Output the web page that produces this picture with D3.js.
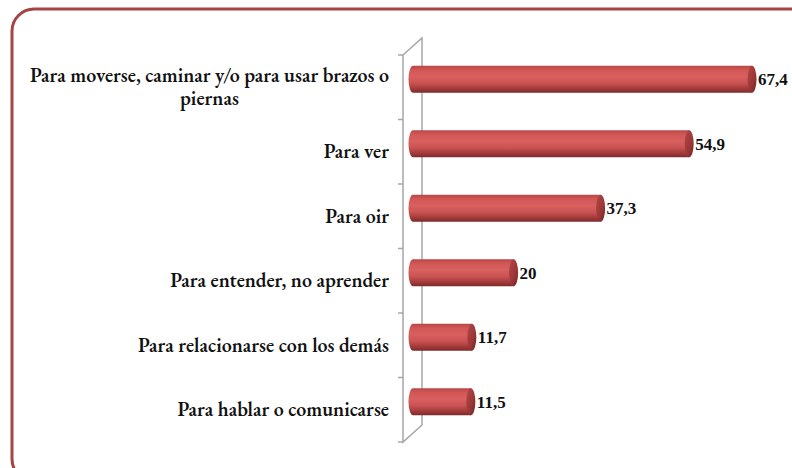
<!DOCTYPE html>
<html>
<head>
<meta charset="utf-8">
<script src="https://cdn.jsdelivr.net/npm/d3@7"></script>
<style>
  html, body { margin: 0; padding: 0; background: #fff; }
  svg { display: block; }
</style>
</head>
<body>
<svg id="chart" width="792" height="468"></svg>
<script>
// Tipo de dificultad (porcentaje)
const categories = [
  ["Para moverse, caminar y/o para usar brazos o", "piernas"],
  ["Para ver"],
  ["Para oir"],
  ["Para entender, no aprender"],
  ["Para relacionarse con los demás"],
  ["Para hablar o comunicarse"]
];
const values = [67.4, 54.9, 37.3, 20, 11.7, 11.5];
const valueLabels = ["67,4", "54,9", "37,3", "20", "11,7", "11,5"];

const FONT = '"EB Garamond", "Liberation Serif", serif';
const NUM_FONT = '"Liberation Serif", "Tinos", serif';
const svg = d3.select("#chart");

// outer frame
svg.append("rect")
  .attr("x", 12).attr("y", 9)
  .attr("width", 800).attr("height", 472)
  .attr("rx", 22).attr("ry", 22)
  .attr("fill", "none")
  .attr("stroke", "#a54444")
  .attr("stroke-width", 3);

// scales
const depth = { dx: 19, dy: -17 };
const front = { x: 403, top: 55, bottom: 442 };
const x = d3.scaleLinear().domain([0, 70]).range([413, 413 + 70 * 5.03]);
const y = d3.scaleBand()
  .domain(d3.range(categories.length))
  .range([front.top, front.bottom])
  .padding(0);

// 3D axis wall
const wall = svg.append("g")
  .attr("stroke", "#a6a6a6")
  .attr("stroke-width", 1.5)
  .attr("fill", "none");
wall.append("path")
  .attr("d", `M${front.x},${front.bottom} L${front.x},${front.top} L${front.x + depth.dx},${front.top + depth.dy} L${front.x + depth.dx},${front.bottom + depth.dy} Z`);
const tickYs = d3.range(categories.length + 1).map(i => i === categories.length ? front.bottom : y(i));
wall.selectAll("line.tick")
  .data(tickYs)
  .join("line")
  .attr("class", "tick")
  .attr("x1", front.x - 5).attr("x2", front.x)
  .attr("y1", d => d).attr("y2", d => d);

// gradients for cylinders
const defs = svg.append("defs");
const body = defs.append("linearGradient")
  .attr("id", "cylBody").attr("x1", 0).attr("y1", 0).attr("x2", 0).attr("y2", 1);
[
  [0, "#b84646"], [0.15, "#d15656"], [0.4, "#da6060"],
  [0.65, "#c95252"], [0.85, "#a23a3a"], [1, "#7e2a2a"]
].forEach(([o, c]) => body.append("stop").attr("offset", o).attr("stop-color", c));
const cap = defs.append("linearGradient")
  .attr("id", "cylCap").attr("x1", 0).attr("y1", 0).attr("x2", 1).attr("y2", 1);
[[0, "#b54747"], [0.6, "#9a3636"], [1, "#6f2222"]]
  .forEach(([o, c]) => cap.append("stop").attr("offset", o).attr("stop-color", c));

const barH = 27, rx = 4.5, shift = -8;
const bars = svg.append("g");
values.forEach((v, i) => {
  const cy = y(i) + y.bandwidth() / 2 + shift;
  const x0 = x(0), x1 = x(v);
  const top = cy - barH / 2, bot = cy + barH / 2;
  const g = bars.append("g");
  g.append("path")
    .attr("d", `M${x1},${top} L${x0},${top} A${rx},${barH / 2} 0 0 0 ${x0},${bot} L${x1},${bot} Z`)
    .attr("fill", "url(#cylBody)");
  g.append("ellipse")
    .attr("cx", x1).attr("cy", cy)
    .attr("rx", rx).attr("ry", barH / 2)
    .attr("fill", "url(#cylCap)");
  g.append("text")
    .attr("x", x1 + rx + 1.5)
    .attr("y", cy)
    .attr("dy", "0.36em")
    .style("font-family", NUM_FONT)
    .style("font-size", "17px")
    .style("font-weight", 700)
    .attr("fill", "#111")
    .text(valueLabels[i]);
});

// category labels: wrapped block, right-aligned, lines centred within the block
const labelRight = 389, lineH = 23;
const labels = svg.append("g")
  .style("font-family", FONT)
  .style("font-size", "20px")
  .style("font-weight", 600)
  .attr("fill", "#111");
categories.forEach((lines, i) => {
  const cy = y(i) + y.bandwidth() / 2;
  const t = labels.append("text").attr("text-anchor", "middle");
  const spans = lines.map((ln, k) => t.append("tspan")
    .attr("y", cy + (k - (lines.length - 1) / 2) * lineH)
    .attr("dy", "0.33em")
    .text(ln));
  const widths = spans.map(s => s.node().getComputedTextLength());
  const bw = d3.max(widths);
  spans.forEach(s => s.attr("x", labelRight - bw / 2));
});
</script>
</body>
</html>
